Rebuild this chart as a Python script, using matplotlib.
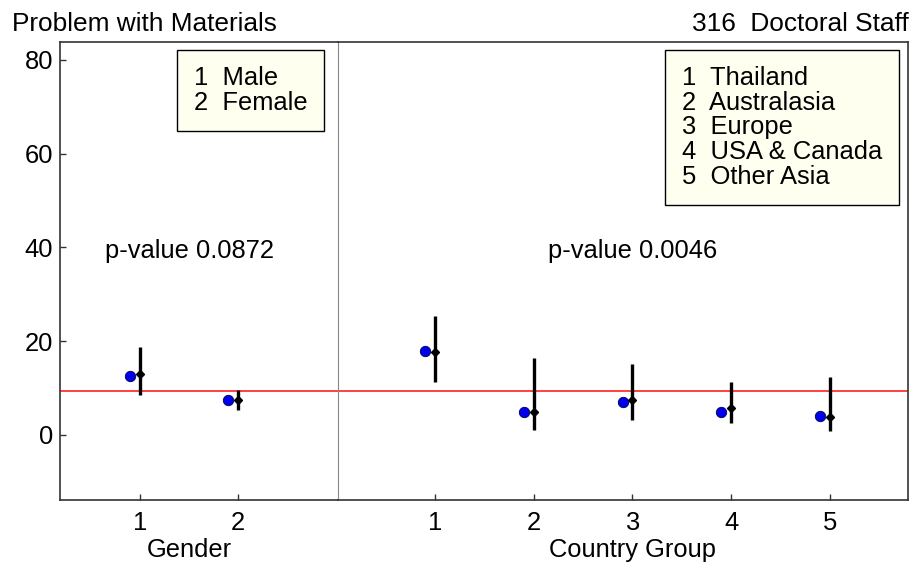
import numpy as np
import matplotlib.pyplot as plt
from matplotlib.transforms import blended_transform_factory

plt.rcParams['font.family'] = ['Liberation Sans', 'DejaVu Sans']

# data
gender_x = [1, 2]
gender_obs = [12.6, 7.5]          # blue dots
gender_est = [13.0, 7.4]          # black diamonds
gender_lo = [8.5, 5.3]
gender_hi = [18.8, 9.6]

country_x = [1, 2, 3, 4, 5]
country_obs = [17.9, 4.9, 6.9, 4.9, 4.05]
country_est = [17.6, 4.8, 7.4, 5.7, 3.7]
country_lo = [11.3, 1.1, 3.1, 2.5, 0.85]
country_hi = [25.4, 16.3, 15.2, 11.2, 12.4]

overall = 9.45
p_gender = "p-value 0.0872"
p_country = "p-value 0.0046"
gender_names = ["Male", "Female"]
country_names = ["Thailand", "Australasia", "Europe", "USA & Canada", "Other Asia"]

FS = 18.4
W, H = 917, 566
fig = plt.figure(figsize=(W / 100, H / 100), dpi=100)
ax1 = fig.add_axes([60 / W, 66 / H, 278 / W, 458 / H])
ax2 = fig.add_axes([338 / W, 66 / H, 570 / W, 458 / H], sharey=ax1)


def draw_panel(ax, xs, obs, est, lo, hi):
    xs = np.array(xs, dtype=float)
    ax.axhline(overall, color='#ff2020', lw=1.2, zorder=1)
    ax.vlines(xs, lo, hi, color='black', lw=2.4, zorder=2)
    ax.plot(xs - 0.1, obs, 'o', color='#0000ee', mec='#000044', mew=0.6, ms=7.5, zorder=3)
    ax.plot(xs, est, 'D', color='black', ms=4.5, zorder=4)
    ax.tick_params(direction='in', length=4.5, width=1, labelsize=FS, colors='#333333',
                   labelcolor='black')
    ax.tick_params(axis='x', pad=8)
    ax.tick_params(axis='y', pad=5)
    for s in ax.spines.values():
        s.set_color('#333333')
        s.set_linewidth(1.2)


draw_panel(ax1, gender_x, gender_obs, gender_est, gender_lo, gender_hi)
draw_panel(ax2, country_x, country_obs, country_est, country_lo, country_hi)

ax1.set_xlim(0.184, 3.02)
ax2.set_xlim(0.018, 5.79)
ax1.set_ylim(-13.9, 83.8)
ax1.set_yticks([0, 20, 40, 60, 80])
ax1.set_xticks(gender_x)
ax2.set_xticks(country_x)
ax2.tick_params(axis='y', left=False, labelleft=False)
ax1.spines['right'].set_visible(False)
ax2.spines['left'].set_color('#888888')
ax2.spines['left'].set_linewidth(0.8)

ax1.set_xlabel("Gender", fontsize=FS)
ax2.set_xlabel("Country Group", fontsize=FS)
ax1.xaxis.set_label_coords(1.5, -0.083, transform=blended_transform_factory(ax1.transData, ax1.transAxes))
ax2.xaxis.set_label_coords(3.0, -0.083, transform=blended_transform_factory(ax2.transData, ax2.transAxes))

ax1.text(1.5, 37.8, p_gender, ha='center', va='baseline', fontsize=FS)
ax2.text(3.0, 37.8, p_country, ha='center', va='baseline', fontsize=FS)

box = dict(boxstyle='square,pad=0.65', facecolor='#fffff0', edgecolor='black', lw=1)
ax1.text(0.482, 0.947, "\n".join(f"{i}  {n}" for i, n in enumerate(gender_names, 1)),
         transform=ax1.transAxes, ha='left', va='top', fontsize=FS, linespacing=1.03, bbox=box)
ax2.text(0.6035, 0.947, "\n".join(f"{i}  {n}" for i, n in enumerate(country_names, 1)),
         transform=ax2.transAxes, ha='left', va='top', fontsize=FS, linespacing=1.03, bbox=box)

fig.text(12 / W, 1 - 31 / H, "Problem with Materials", ha='left', va='baseline', fontsize=18.9)
fig.text(909 / W, 1 - 31 / H, "316  Doctoral Staff", ha='right', va='baseline', fontsize=18.9)

fig.savefig("out.png", dpi=100)
